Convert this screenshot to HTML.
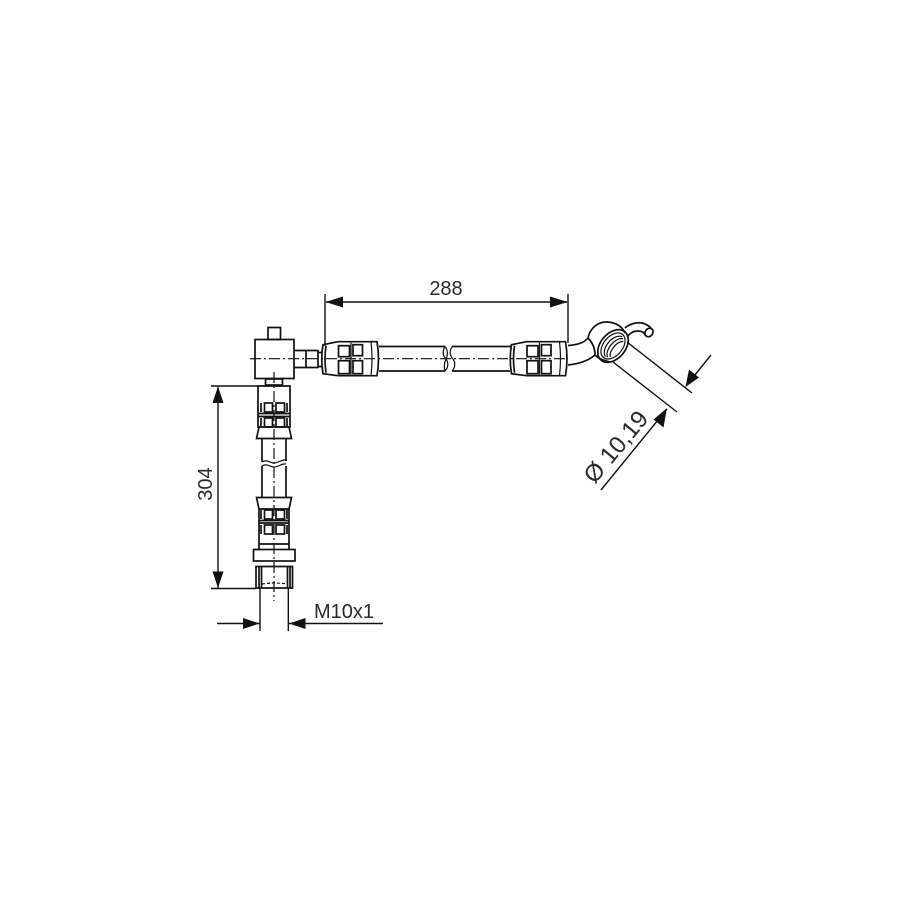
<!DOCTYPE html>
<html><head><meta charset="utf-8"><style>
html,body{margin:0;padding:0;background:#fff}
svg{display:block}
text{font-family:"Liberation Sans",sans-serif;font-size:20px;fill:#2a2a2a}
.l{fill:none;stroke:#111;stroke-width:1.7}
.t{fill:none;stroke:#111;stroke-width:1.2}
.c{fill:none;stroke:#111;stroke-width:1.2;stroke-dasharray:11 3 2 3}
.a{fill:#111;stroke:none}
.d{fill:none;stroke:#111;stroke-width:1.4}
</style></head><body>
<svg width="915" height="915" viewBox="0 0 915 915" xmlns="http://www.w3.org/2000/svg">
<defs>
<g id="fit">
<path class="l" d="M1 -14Q-1.500 0 1 15L16 17H55Q58 0 55 -17H16Z"/>
<path class="l" d="M4 -13Q2 0 4 14" stroke-width="2"/>
<rect class="l" x="16.500" y="-13" width="11" height="11"/>
<rect class="l" x="16.500" y="2" width="11" height="13"/>
<rect class="l" x="31" y="-14" width="9.500" height="11"/>
<rect class="l" x="31" y="2" width="9.500" height="13"/>
<path class="t" d="M29 -16V16"/>
<path class="t" d="M49 -17Q51 0 49 17"/>
</g>
<g id="win">
<path class="l" d="M261 0V9M287 0V9"/>
<rect class="l" x="264.500" y="0" width="8" height="9"/>
<rect class="l" x="276" y="0" width="8.500" height="9"/>
</g>
</defs>
<!-- elbow block -->
<rect class="l" x="255" y="339.500" width="39" height="39"/>
<rect class="l" x="268" y="327.500" width="12.500" height="12"/>
<path class="l" d="M294 350.500H318M294 367.500H318M306 350.500V367.500M318 350V368M318 352.500H322M318 366.500H322"/>
<rect class="l" x="265.500" y="379" width="17" height="6"/>
<!-- horizontal fittings -->
<use href="#fit" transform="translate(322,358.700)"/>
<use href="#fit" transform="translate(510.500,358.700)"/>
<!-- tube horizontal -->
<path class="l" d="M379 346.500H445M379 371H445M452 346.500H511M452 371H510"/>
<path class="t" d="M445 346.500C442 352 443 356 446 359C449 363 448 368 445 371M452 346.500C449 352 450 356 453 359C456 363 455 368 452 371M445 346.500C448 350 448 355 446 359C444 363 444 368 445 371"/>
<!-- bent neck -->
<path class="l" d="M568 345.500C577 345 584 343 588 338M568 365C578 364 588 361 595 355"/>
<!-- banjo -->
<path class="l" d="M588 338C590 328 598 322 606 322C615 322 622 326 625 333"/>
<path class="l" d="M588 338C592 342 595 347 595 355C598 358 604 361 610 362"/>
<g transform="translate(613,346) rotate(40)">
<ellipse class="l" rx="12.500" ry="18.500"/>
<ellipse class="t" rx="9.500" ry="15"/>
<path class="t" d="M1 -13C-8 -10 -8 10 1 13M3 -12C-4 -9 -4 9 3 12M5 -10C0 -7 0 7 5 10"/>
</g>
<path class="l" d="M625 328C629 324 637 322 642 323C646 324 649 326 651 328M627 337C630 333 634 331 638 331C641 331 644 332 645 335"/>
<ellipse class="l" cx="649" cy="332.500" rx="3.800" ry="4.500" transform="rotate(40 649 332.500)"/>
<!-- top vertical fitting -->
<path class="l" d="M258 386H290V427H258ZM259 427L256.500 438.500H291.500L289 427"/>
<use href="#win" transform="translate(0,403)"/>
<use href="#win" transform="translate(0,418)"/>
<path class="l" d="M258 413.500H290M258 416.500H290"/>
<!-- vertical tube -->
<path class="l" d="M262 439V462M286 439V461M262 466V497M286 466V497"/>
<path class="t" d="M262 462C267 459 270 463 274 463C279 463 282 459 286 460M262 466C267 463 270 467 274 467C279 467 282 463 286 464"/>
<!-- bottom vertical fitting -->
<path class="l" d="M256.500 497.500H291.500L289 509H259ZM259 509V549M289 509V549M259 544H289"/>
<use href="#win" transform="translate(0,510)"/>
<use href="#win" transform="translate(0,525)"/>
<path class="l" d="M259 520.500H289M259 523H289"/>
<!-- flange and nut -->
<rect class="l" x="253.500" y="549.500" width="41.500" height="11.500"/>
<path class="l" d="M256 566.500H292.500V588H256ZM261.500 566.500V588M287.500 566.500V588M290 566.500V588M259 566.500V588"/>
<path class="t" d="M262 584Q274 582 287 584" stroke-dasharray="3 2"/>
<!-- centre lines -->
<path class="c" d="M250 358.700H567"/>
<path class="c" d="M274 372V601"/>
<!-- dim 288 -->
<path class="d" d="M325 294V346M568 294V343M326 302H567"/>
<path class="a" d="M325.500 302L343 296.500V307.500Z"/>
<path class="a" d="M567.500 302L550 296.500V307.500Z"/>
<text x="446" y="295" text-anchor="middle">288</text>
<!-- dim 304 -->
<path class="d" d="M211 386H258M211 588.500H256M218 387V588"/>
<path class="a" d="M218 386.500L212.500 403H223.500Z"/>
<path class="a" d="M218 588L212.500 571.500H223.500Z"/>
<text transform="translate(212,484) rotate(-90)" text-anchor="middle">304</text>
<!-- M10x1 -->
<path class="d" d="M260 588V631M288.300 588V631M217 623.500H260M288 623.500H383"/>
<path class="a" d="M259.500 623.500L243 618V629Z"/>
<path class="a" d="M289 623.500L305.500 618V629Z"/>
<text x="314" y="618">M10x1</text>
<!-- dim dia -->
<path class="d" d="M627 342L692 393M613 362L677 412M711 355L686 386M667 409L601 490"/>
<path class="a" d="M685.500 387L689 369.500L699 377.500Z"/>
<path class="a" d="M667 408L653.500 419.500L663.500 427.500Z"/>
<text transform="translate(594.600,484.700) rotate(-50)" style="font-size:24px">Ø 10,19</text>
</svg>
</body></html>
